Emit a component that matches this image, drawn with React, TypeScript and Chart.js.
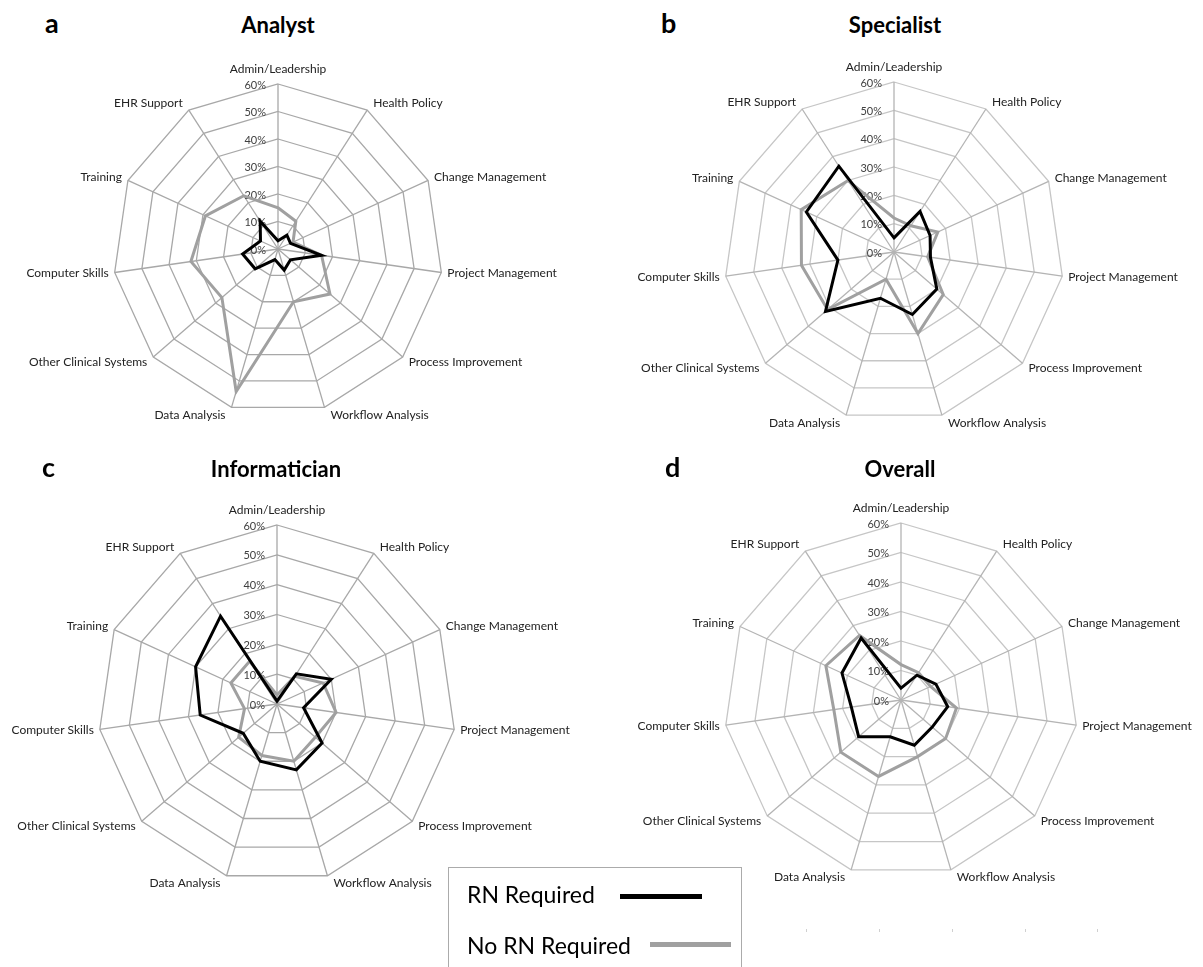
import React, { useEffect, useRef } from 'react';
import { Chart, registerables } from 'chart.js';

Chart.register(...registerables);

const categories = [
  'Admin/Leadership',
  'Health Policy',
  'Change Management',
  'Project Management',
  'Process Improvement',
  'Workflow Analysis',
  'Data Analysis',
  'Other Clinical Systems',
  'Computer Skills',
  'Training',
  'EHR Support',
];
const tickValues = [0, 10, 20, 30, 40, 50, 60];
const tickLabels = ['0%', '10%', '20%', '30%', '40%', '50%', '60%'];
const seriesNames = ['RN Required', 'No RN Required'];

const analystRN = [3, 6, 5, 16, 6, 8, 4, 11, 13, 7, 12];
const analystNoRN = [15, 12, 6, 16, 25, 20, 54, 27, 32, 29, 23];
const specialistRN = [5, 17, 14, 13, 20, 23, 17, 32, 20, 34, 36];
const specialistNoRN = [12, 11, 17, 12, 23, 30, 10, 31, 33, 36, 30];
const informaticianRN = [1, 12, 20, 9, 20, 23, 20, 15, 26, 30, 35];
const informaticianNoRN = [3, 11, 17, 20, 17, 20, 18, 17, 11, 17, 17];
const overallRN = [4, 10, 13, 16, 14, 16, 13, 19, 17, 22, 25];
const overallNoRN = [12, 11, 11, 19, 20, 20, 27, 27, 23, 28, 26];

const labelPlugin = {
  id: 'excelLabels',
  beforeDatasetsDraw(chart: any) {
    const scale = chart.scales.r;
    const ctx = chart.ctx;
    ctx.save();
    ctx.font = '11px Lato';
    ctx.fillStyle = '#404040';
    ctx.textAlign = 'right';
    ctx.textBaseline = 'middle';
    tickValues.forEach((v, i) => {
      const d = scale.getDistanceFromCenterForValue(v);
      ctx.fillText(tickLabels[i], scale.xCenter - 12, scale.yCenter - d + 1);
    });
    ctx.restore();
  },
  afterDraw(chart: any) {
    const scale = chart.scales.r;
    const ctx = chart.ctx;
    ctx.save();
    ctx.font = '12px Lato';
    ctx.fillStyle = '#222222';
    categories.forEach((lab, i) => {
      const a = scale.getIndexAngle(i);
      const s = Math.sin(a);
      const c = Math.cos(a);
      const p = scale.getPointPosition(i, scale.drawingArea);
      if (Math.abs(s) < 0.05) {
        ctx.textAlign = 'center';
        ctx.textBaseline = 'bottom';
        ctx.fillText(lab, p.x, p.y - 9);
      } else {
        ctx.textAlign = s > 0 ? 'left' : 'right';
        ctx.textBaseline = 'middle';
        ctx.fillText(lab, p.x + (s > 0 ? 6 : -6), p.y - c * 8);
      }
    });
    ctx.restore();
  },
};

type PanelProps = {
  left: number;
  top: number;
  width: number;
  height: number;
  padding: { left: number; top: number; right: number; bottom: number };
  rn: number[];
  noRn: number[];
  gridColor: string;
  angleColor: string;
};

function RadarPanel(props: PanelProps) {
  const ref = useRef<HTMLCanvasElement>(null);
  useEffect(() => {
    if (!ref.current) return;
    const chart = new Chart(ref.current, {
      type: 'radar',
      data: {
        labels: categories,
        datasets: [
          {
            label: seriesNames[0],
            data: props.rn,
            borderColor: '#000000',
            backgroundColor: 'transparent',
            borderWidth: 3,
            pointRadius: 0,
            fill: false,
            tension: 0,
          },
          {
            label: seriesNames[1],
            data: props.noRn,
            borderColor: '#a0a0a0',
            backgroundColor: 'transparent',
            borderWidth: 3,
            pointRadius: 0,
            fill: false,
            tension: 0,
          },
        ],
      },
      options: {
        responsive: false,
        animation: false,
        events: [],
        layout: { padding: props.padding },
        plugins: {
          legend: { display: false },
          tooltip: { enabled: false },
          title: { display: false },
        },
        scales: {
          r: {
            min: 0,
            max: 60,
            beginAtZero: true,
            ticks: { display: false, stepSize: 10 },
            pointLabels: { display: false },
            grid: { color: props.gridColor, lineWidth: 1.3 },
            angleLines: { color: props.angleColor, lineWidth: 1.3 },
          },
        },
      } as any,
      plugins: [labelPlugin],
    });
    return () => chart.destroy();
  }, []);
  return (
    <canvas
      ref={ref}
      width={props.width}
      height={props.height}
      style={{ position: 'absolute', left: props.left, top: props.top, width: props.width, height: props.height }}
    />
  );
}

const letterStyle: React.CSSProperties = {
  position: 'absolute',
  font: 'bold 27px Lato',
  lineHeight: 1,
  color: '#000',
  whiteSpace: 'nowrap',
};
const titleStyle: React.CSSProperties = {
  position: 'absolute',
  font: 'bold 22px Lato',
  lineHeight: 1,
  color: '#000',
  width: 300,
  textAlign: 'center',
  whiteSpace: 'nowrap',
};

export default function App() {
  return (
    <div style={{ position: 'absolute', left: 0, top: 0, width: 1203, height: 967, background: '#fff', overflow: 'hidden' }}>
      <RadarPanel
        left={0} top={40} width={600} height={410}
        padding={{ left: 113, top: 44, right: 157, bottom: 36 }}
        rn={analystRN} noRn={analystNoRN}
        gridColor="#a8a8a8" angleColor="#a8a8a8"
      />
      <RadarPanel
        left={600} top={40} width={603} height={410}
        padding={{ left: 124, top: 42, right: 139, bottom: 28 }}
        rn={specialistRN} noRn={specialistNoRN}
        gridColor="#c6c6c6" angleColor="#b4b4b4"
      />
      <RadarPanel
        left={0} top={450} width={600} height={517}
        padding={{ left: 98, top: 75, right: 144, bottom: 84 }}
        rn={informaticianRN} noRn={informaticianNoRN}
        gridColor="#a8a8a8" angleColor="#a8a8a8"
      />
      <RadarPanel
        left={600} top={450} width={603} height={517}
        padding={{ left: 124, top: 73, right: 125, bottom: 90 }}
        rn={overallRN} noRn={overallNoRN}
        gridColor="#c6c6c6" angleColor="#b4b4b4"
      />

      <div style={{ ...letterStyle, left: 45, top: 9 }}>a</div>
      <div style={{ ...titleStyle, left: 278 - 150, top: 14 }}>Analyst</div>
      <div style={{ ...letterStyle, left: 661, top: 9 }}>b</div>
      <div style={{ ...titleStyle, left: 895 - 150, top: 14 }}>Specialist</div>
      <div style={{ ...letterStyle, left: 42, top: 453 }}>c</div>
      <div style={{ ...titleStyle, left: 276 - 150, top: 458 }}>Informatician</div>
      <div style={{ ...letterStyle, left: 665, top: 453 }}>d</div>
      <div style={{ ...titleStyle, left: 900 - 150, top: 458 }}>Overall</div>

      <div
        style={{
          position: 'absolute',
          left: 448,
          top: 867,
          width: 294,
          height: 110,
          border: '1.5px solid #ababab',
          background: '#fff',
          boxSizing: 'border-box',
        }}
      />
      <div style={{ position: 'absolute', left: 467, top: 883, font: '23px Lato', lineHeight: 1, color: '#000', whiteSpace: 'nowrap' }}>
        {seriesNames[0]}
      </div>
      <div style={{ position: 'absolute', left: 620, top: 894, width: 82, height: 5, background: '#000' }} />
      <div style={{ position: 'absolute', left: 467, top: 934, font: '23px Lato', lineHeight: 1, color: '#000', whiteSpace: 'nowrap' }}>
        {seriesNames[1]}
      </div>
      <div style={{ position: 'absolute', left: 650, top: 942, width: 81, height: 5, background: '#a0a0a0' }} />

      {[806, 879, 952, 1025, 1097].map((x) => (
        <div key={x} style={{ position: 'absolute', left: x, top: 929, width: 1, height: 3, background: '#d0d0d0' }} />
      ))}
    </div>
  );
}
